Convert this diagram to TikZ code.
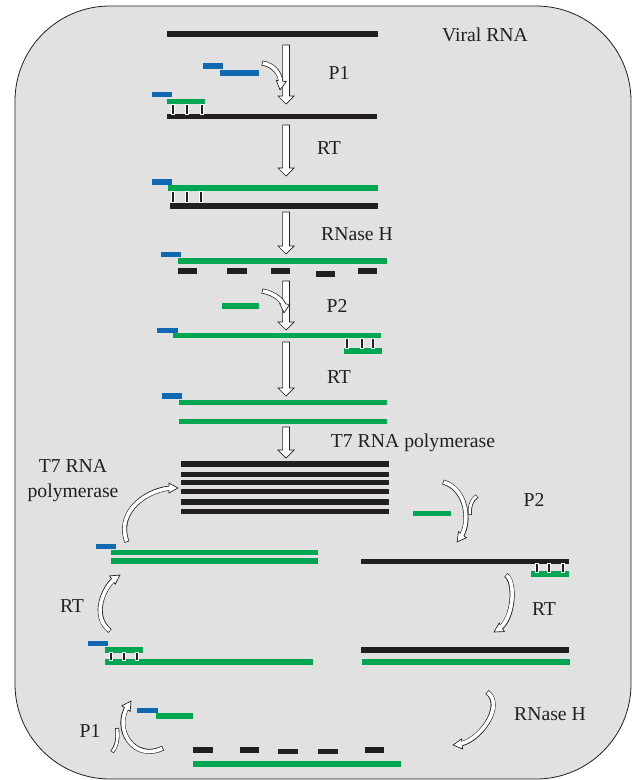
\documentclass[tikz,border=0pt]{standalone}
\usepackage{fontspec}
\setmainfont{Liberation Serif}
\usepackage{tikz}
\usetikzlibrary{decorations.markings}
\definecolor{Cb}{RGB}{15,105,178}
\definecolor{Cg}{RGB}{0,166,81}
\definecolor{Ck}{RGB}{35,31,32}
\definecolor{Cbg}{RGB}{225,225,225}

\tikzset{
  rna/.style={fill=Ck},
  dna/.style={fill=Cg},
  tag/.style={fill=Cb},
  bond/.style={fill=Ck, draw=white, line width=0.6pt},
  lbl/.style={anchor=base, font=\fontsize{19.7}{25}\selectfont, text=Ck},
  blockarrow/.style={fill=white, draw=Ck, line width=0.7pt},
  arctip/.style={decorate, decoration={markings, mark=at position -0.1pt with
    {\filldraw[fill=white, draw=Ck, line width=0.7pt] (0,0) -- (-9,-5) -- (-9,5) -- cycle;}}}
}
% straight hollow arrow: x, top, tip
\newcommand{\blockdown}[3]{\filldraw[blockarrow] ({#1-3.4},#2) -- ({#1+3.4},#2) -- ({#1+3.4},{#3-8})
  -- ({#1+8},{#3-8}) -- (#1,#3) -- ({#1-8},{#3-8}) -- ({#1-3.4},{#3-8}) -- cycle;}
% curved hollow arrow: tail, control, control, tip
\newcommand{\hollowarc}[4]{%
  \draw[Ck, line width=5pt, shorten >=5pt] #1 .. controls #2 and #3 .. #4;
  \path[arctip] #1 .. controls #2 and #3 .. #4;
  \draw[white, line width=3.6pt, shorten >=4pt, shorten <=0.7pt] #1 .. controls #2 and #3 .. #4;}
\newcommand{\hollowbit}[4]{%
  \draw[Ck, line width=4pt] #1 .. controls #2 and #3 .. #4;
  \draw[white, line width=2.6pt, shorten >=0.7pt, shorten <=0.7pt] #1 .. controls #2 and #3 .. #4;}

\begin{document}
\begin{tikzpicture}[x=1pt, y=-1pt]
  \useasboundingbox (0,0) rectangle (635,780);
  \filldraw[fill=Cbg, draw=Ck, line width=0.8pt, rounded corners=95pt] (15,6) rectangle (631,779);

  % main column
  \fill[rna] (167,31) rectangle (378,37);
  \fill[tag] (203,63) rectangle (223,69);
  \fill[tag] (220,70) rectangle (259,76);

  \fill[tag] (152,92) rectangle (172,97);
  \fill[dna] (167,99) rectangle (205,104);
  \fill[rna] (167,114) rectangle (377,119);
  \foreach \x in {173,187,202} \filldraw[bond] (\x-1.3,104) rectangle (\x+1.3,114);

  \fill[tag] (152,179) rectangle (172,185);
  \fill[dna] (168,185) rectangle (378,191);
  \fill[rna] (170,203) rectangle (378,209);
  \foreach \x in {173,187,201} \filldraw[bond] (\x-1.3,191) rectangle (\x+1.3,202);

  \fill[tag] (161,252) rectangle (181,257);
  \fill[dna] (178,258) rectangle (387,264);
  \fill[rna] (178,268) rectangle (197,274);
  \fill[rna] (227,268) rectangle (247,274);
  \fill[rna] (271,268) rectangle (290,274);
  \fill[rna] (316,271) rectangle (335,277);
  \fill[rna] (358,268) rectangle (377,274);

  \fill[dna] (222,303) rectangle (259,309);

  \fill[tag] (157,328) rectangle (178,333);
  \fill[dna] (173,333) rectangle (381,338);
  \fill[dna] (344,348) rectangle (382,354);
  \foreach \x in {347,362,373} \filldraw[bond] (\x-1.3,338) rectangle (\x+1.3,348);

  \fill[tag] (162,393) rectangle (182,399);
  \fill[dna] (179,400) rectangle (387,405);
  \fill[dna] (179,419) rectangle (387,424);

  \foreach \y in {464,474.5,482.5,491.5,502,511.5}
    \fill[rna] (181,\y-2.8) rectangle (389,\y+2.8);

  % right branch
  \fill[dna] (413,511) rectangle (451,516);
  \fill[rna] (361,559) rectangle (569,564);
  \fill[dna] (531,571) rectangle (569,577);
  \foreach \x in {537,549,563} \filldraw[bond] (\x-1.3,563) rectangle (\x+1.3,572);
  \fill[rna] (361,647) rectangle (569,653);
  \fill[dna] (362,659) rectangle (570,665);

  % left branch
  \fill[tag] (96,544) rectangle (116,549);
  \fill[dna] (111,550) rectangle (318,555);
  \fill[dna] (111,558) rectangle (318,564);
  \fill[tag] (88,641) rectangle (108,646);
  \fill[dna] (105,647) rectangle (143,653);
  \fill[dna] (105,659) rectangle (313,665);
  \foreach \x in {111,124,137} \filldraw[bond] (\x-1.3,652) rectangle (\x+1.3,660);

  % bottom
  \fill[tag] (137,708) rectangle (158,713);
  \fill[dna] (156,713) rectangle (193,719);
  \fill[rna] (193,747) rectangle (213,753);
  \fill[rna] (240,747) rectangle (259,753);
  \fill[rna] (278,749) rectangle (298,754);
  \fill[rna] (318,749) rectangle (338,754);
  \fill[rna] (365,747) rectangle (384,753);
  \fill[dna] (193,761) rectangle (401,767);

  % arrows
  \blockdown{286}{45}{104}
  \blockdown{286}{125}{176}
  \blockdown{286}{212}{254}
  \blockdown{286}{281}{330}
  \blockdown{286}{342}{396}
  \blockdown{286}{427}{458}

  \hollowarc{(262,63)}{(275,65)}{(282,76)}{(280,90)}
  \hollowarc{(262,291)}{(275,293)}{(285,302)}{(284,313)}
  \hollowarc{(443,482)}{(466,488)}{(472,522)}{(457,542)}
  \hollowbit{(477,496)}{(471,500)}{(469,508)}{(470,515)}
  \hollowarc{(506,575)}{(516,582)}{(514,620)}{(494,632)}
  \hollowarc{(487,692)}{(505,705)}{(480,742)}{(453,745)}
  \hollowarc{(127,542)}{(115,510)}{(150,488)}{(178,488)}
  \hollowarc{(110,631)}{(90,615)}{(105,585)}{(120,575)}
  \hollowbit{(112,752)}{(118,745)}{(118,735)}{(117,728)}
  \hollowarc{(163,748)}{(135,762)}{(112,730)}{(131,701)}

  % labels
  \node[lbl] (viral) at (485,41) {Viral RNA};
  \node[lbl] (p1top) at (339,79) {P1};
  \node[lbl] (rt1) at (329,154) {RT};
  \node[lbl] (rnh1) at (357,240) {RNase H};
  \node[lbl] (p2top) at (337,312) {P2};
  \node[lbl] (rt2) at (339,383) {RT};
  \node[lbl] (t7mid) at (413,447) {T7 RNA polymerase};
  \node[lbl, anchor=center, align=center] (t7left) at (73,481) {T7 RNA\\polymerase};
  \node[lbl] (p2right) at (534,506) {P2};
  \node[lbl] (rtleft) at (72,612) {RT};
  \node[lbl] (rtright) at (544,615) {RT};
  \node[lbl] (rnh2) at (550,720) {RNase H};
  \node[lbl] (p1bot) at (90,737) {P1};
\end{tikzpicture}
\end{document}
